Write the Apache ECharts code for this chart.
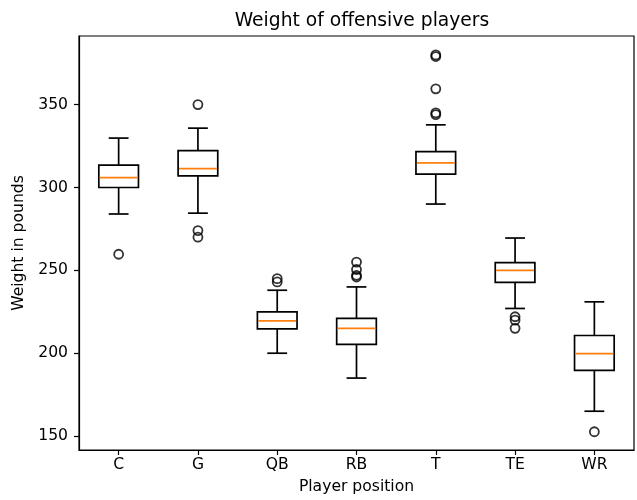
<!DOCTYPE html>
<html><head><meta charset="utf-8">
<script src="https://cdn.jsdelivr.net/npm/echarts@6/dist/echarts.min.js"></script>
<style>html,body{margin:0;padding:0;background:#fff}#c{width:637px;height:500px}</style>
</head><body><div id="c"></div>
<script>
const categories = ['C','G','QB','RB','T','TE','WR'];
const whiskerLow  = [284, 284.5, 200, 185, 290, 227, 165];
const q1          = [300, 307, 214.7, 205.3, 308, 242.7, 189.6];
const median      = [306, 311.4, 219.5, 215, 314.8, 250, 199.8];
const q3          = [313.5, 322.2, 225, 221, 321.6, 254.7, 210.7];
const whiskerHigh = [329.8, 335.8, 238, 240, 337.8, 269.5, 231];
const outliers = [
  [259.7],
  [350, 274, 270],
  [245, 243],
  [255, 250.5, 247, 246],
  [380, 379, 359.5, 345, 344],
  [222, 220, 215],
  [152.6]
];
const yTicks = [150, 200, 250, 300, 350];

const boxData = categories.map((c, i) => [i, whiskerLow[i], q1[i], median[i], q3[i], whiskerHigh[i]]);
const outlierData = [];
outliers.forEach((arr, i) => arr.forEach(v => outlierData.push([i, v])));

const LW = 1.7;
function renderItem(params, api) {
  const x = api.value(0);
  const pLow = api.coord([x, api.value(1)]);
  const pQ1 = api.coord([x, api.value(2)]);
  const pMed = api.coord([x, api.value(3)]);
  const pQ3 = api.coord([x, api.value(4)]);
  const pHigh = api.coord([x, api.value(5)]);
  const band = api.size([1, 0])[0];
  const bw = band * 0.5, cw = bw / 2;
  const cx = pMed[0];
  const st = {stroke: '#000', lineWidth: LW, fill: null};
  const line = (x1, y1, x2, y2, style) => ({type: 'line', shape: {x1, y1, x2, y2}, style: style || st});
  return {type: 'group', children: [
    line(cx, pQ1[1], cx, pLow[1]),
    line(cx, pQ3[1], cx, pHigh[1]),
    line(cx - cw / 2, pLow[1], cx + cw / 2, pLow[1]),
    line(cx - cw / 2, pHigh[1], cx + cw / 2, pHigh[1]),
    {type: 'rect', shape: {x: cx - bw / 2, y: pQ3[1], width: bw, height: pQ1[1] - pQ3[1]}, style: {stroke: '#000', lineWidth: LW, fill: 'none'}},
    line(cx - bw / 2 + 0.9, pMed[1], cx + bw / 2 - 0.9, pMed[1], {stroke: '#ff7f0e', lineWidth: LW})
  ]};
}

const font = 'DejaVu Sans';
const fs = 15.6;
const chart = echarts.init(document.getElementById('c'), null, {renderer: 'canvas'});
chart.setOption({
  animation: false,
  backgroundColor: '#fff',
  title: {text: 'Weight of offensive players', left: 357, top: 7, textAlign: 'center',
    textStyle: {fontFamily: font, fontSize: 18.7, fontWeight: 'normal', color: '#000'}},
  grid: {left: 79, right: 3, top: 36, bottom: 46, show: true, borderColor: '#000', borderWidth: 1.2, backgroundColor: 'transparent'},
  xAxis: {
    type: 'category', data: categories, boundaryGap: true,
    name: 'Player position', nameLocation: 'middle', nameGap: 29,
    nameTextStyle: {fontFamily: font, fontSize: fs, color: '#000'},
    axisLine: {show: true, lineStyle: {color: '#000', width: 1.2}},
    axisTick: {show: true, alignWithLabel: true, length: 5, lineStyle: {color: '#000', width: 1.2}},
    axisLabel: {fontFamily: font, fontSize: fs, color: '#000', margin: 7},
    splitLine: {show: false}
  },
  yAxis: {
    type: 'value', min: 141.6, max: 391.4,
    name: 'Weight in pounds', nameLocation: 'middle', nameGap: 46,
    nameTextStyle: {fontFamily: font, fontSize: fs, color: '#000'},
    axisLine: {show: true, lineStyle: {color: '#000', width: 1.2}},
    axisTick: {show: true, length: 5, customValues: yTicks, lineStyle: {color: '#000', width: 1.2}},
    axisLabel: {fontFamily: font, fontSize: fs, color: '#000', margin: 11, customValues: yTicks},
    splitLine: {show: false}
  },
  series: [
    {type: 'custom', renderItem: renderItem, data: boxData, encode: {x: 0, y: [1, 2, 3, 4, 5]}, z: 2},
    {type: 'scatter', data: outlierData, symbol: 'circle', symbolSize: 9,
      itemStyle: {color: 'rgba(0,0,0,0)', borderColor: '#000', borderWidth: 1.8}, z: 3}
  ]
});
</script></body></html>
